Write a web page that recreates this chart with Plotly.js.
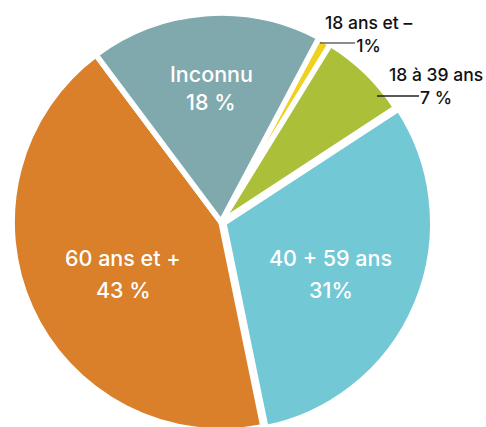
<!DOCTYPE html>
<html>
<head>
<meta charset="utf-8">
<script src="https://cdn.plot.ly/plotly-3.0.1.min.js"></script>
<style>
html,body{margin:0;padding:0;overflow:hidden;background:#fff;}
#chart{width:486px;height:435px;}
</style>
</head>
<body>
<div id="chart"></div>
<script>
// Data
const categories = ['18 ans et –', '18 à 39 ans', '40 + 59 ans', '60 ans et +', 'Inconnu'];
const values = [1, 7, 31, 43, 18];
const pctLabels = ['1%', '7 %', '31%', '43 %', '18 %'];
const colors = ['#EED21F', '#ABBF39', '#73C8D5', '#DA7F2A', '#80A9AD'];

// Layout helpers (pixel -> paper)
const W = 486, H = 435;
const px = x => x / W;
const py = y => 1 - y / H;

// Label placement (px) per category
const insidePos = [null, null, [330.5, 258, 289.5], [123.5, 258, 289.5], [211, 74.5, 101.5]];
const outsidePos = [[368.5, 33.5], [435.5, 86], null, null, null];
const leaders = [
  [320, 43, 355, 43, '#666'],
  [377, 96, 419, 96, '#222'],
  null, null, null
];

const insideFont = {family: 'Inter, sans-serif', size: 21.5, color: '#ffffff', weight: 500};
const outsideFont = {family: 'Inter, sans-serif', size: 17.5, color: '#111111', weight: 500};

const annotations = [];
const shapes = [];
categories.forEach((c, i) => {
  const ip = insidePos[i];
  if (ip) {
    annotations.push({xref: 'paper', yref: 'paper', x: px(ip[0]), y: py(ip[1]), text: c,
      showarrow: false, xanchor: 'center', yanchor: 'middle', font: insideFont});
    annotations.push({xref: 'paper', yref: 'paper', x: px(ip[0]), y: py(ip[2]), text: pctLabels[i],
      showarrow: false, xanchor: 'center', yanchor: 'middle', font: insideFont});
  }
  const op = outsidePos[i];
  if (op) {
    annotations.push({xref: 'paper', yref: 'paper', x: px(op[0]), y: py(op[1]),
      text: c + '<br>' + pctLabels[i], align: 'center',
      showarrow: false, xanchor: 'center', yanchor: 'middle', font: outsideFont});
  }
  const l = leaders[i];
  if (l) {
    shapes.push({type: 'line', xref: 'paper', yref: 'paper', x0: px(l[0]), y0: py(l[1]),
      x1: px(l[2]), y1: py(l[3]), line: {color: l[4], width: 1.5}});
  }
});

// Pie geometry
const cx = 221, cy = 222, r = 212;

const trace = {
  type: 'pie',
  labels: categories,
  values: values,
  sort: false,
  direction: 'clockwise',
  rotation: 28,
  pull: [0, 0, 0.015, 0, 0],
  marker: {colors: colors, line: {color: '#ffffff', width: 5.5}},
  textinfo: 'none',
  hoverinfo: 'label+percent',
  domain: {x: [px(cx - r), px(cx + r)], y: [py(cy + r), py(cy - r)]},
  showlegend: false
};

const layout = {
  width: W, height: H,
  margin: {l: 0, r: 0, t: 0, b: 0},
  paper_bgcolor: '#ffffff',
  showlegend: false,
  annotations: annotations,
  shapes: shapes
};

Plotly.newPlot('chart', [trace], layout, {displayModeBar: false, staticPlot: true});
</script>
</body>
</html>
